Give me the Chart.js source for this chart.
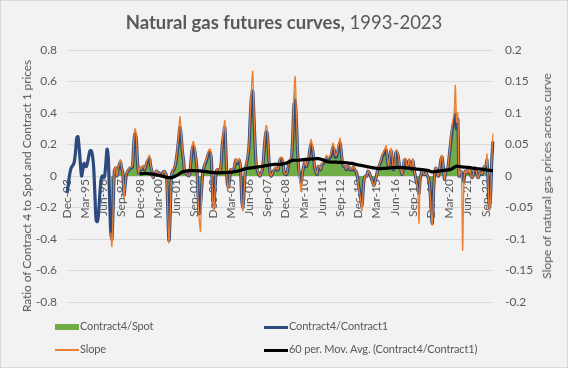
<!DOCTYPE html>
<html>
<head>
<meta charset="utf-8">
<script src="https://cdn.jsdelivr.net/npm/chart.js@4.4.1/dist/chart.umd.min.js"></script>
<style>
body { margin: 0; background: #fff; }
#wrap { position: relative; width: 568px; height: 368px; background: #f2f2f2;
        outline: 1px solid #d9d9d9; outline-offset: -1px;
        font-family: Lato, "Open Sans", sans-serif; color: #595959; }
#title { position: absolute; top: 11px; left: 0; width: 100%; text-align: center; font-size: 18.5px; }
#title b { font-weight: 700; }
canvas { position: absolute; left: 0; top: 0; }
.axt { position: absolute; font-size: 12px; line-height: 14px; white-space: nowrap;
       transform: translate(-50%, -50%) rotate(-90deg); }
.sw { position: absolute; }
.lt { position: absolute; font-size: 11px; line-height: 14px; white-space: nowrap; letter-spacing: -0.15px; }
</style>
</head>
<body>
<div id="wrap">
  <canvas id="gasChart" width="568" height="368"></canvas>
  <div id="title"><b>Natural gas futures curves,</b> 1993-2023</div>
  <div class="axt" id="ytitle" style="left:27px;top:186px;letter-spacing:-0.1px">Ratio of Contract 4 to Spot and Contract 1 prices</div>
  <div class="axt" id="y1title" style="left:547px;top:176px">Slope of natural gas prices across curve</div>
  <div id="legend"></div>
</div>
<script>
// monthly, Dec-93 .. Mar-23
const startYear = 1993, startMonth = 11;
const monthNames = ["Jan","Feb","Mar","Apr","May","Jun","Jul","Aug","Sep","Oct","Nov","Dec"];
const tickLabels = ["Dec-93","Mar-95","Jun-96","Sep-97","Dec-98","Mar-00","Jun-01","Sep-02",
  "Dec-03","Mar-05","Jun-06","Sep-07","Dec-08","Mar-10","Jun-11","Sep-12","Dec-13","Mar-15",
  "Jun-16","Sep-17","Dec-18","Mar-20","Jun-21","Sep-22"];
const leftTicks = [-0.8, -0.6, -0.4, -0.2, 0, 0.2, 0.4, 0.6, 0.8];
const rightTicks = [-0.2, -0.15, -0.1, -0.05, 0, 0.05, 0.1, 0.15, 0.2];

// Contract4/Contract1 (left axis), from Dec-93
const c4c1 = [
  -0.11,-0.06,0.0,0.04,0.06,0.07,0.09,0.15,0.24,0.25,       // m0
  0.18,0.08,0.0,0.04,0.08,0.06,0.06,0.09,0.13,0.16,         // m10
  0.16,0.13,0.05,-0.12,-0.28,-0.29,-0.24,-0.12,-0.03,0.0,   // m20
  -0.01,0.0,0.08,0.17,0.12,-0.12,-0.35,-0.40,-0.2,0.03,     // m30
  0.05,0.0,0.04,0.07,0.09,0.05,0.02,-0.12,-0.05,0.01,       // m40
  0.03,0.04,0.05,0.05,0.06,0.2,0.27,0.24,0.1,0.02,          // m50
  0.05,0.04,0.05,0.06,0.04,0.06,0.09,0.1,0.11,0.06,         // m60
  0.03,-0.01,0.01,0.02,0.03,0.01,0.02,0.01,0.0,0.02,        // m70
  0.03,0.02,0.0,-0.2,-0.41,-0.25,0.0,0.03,0.04,0.06,        // m80
  0.1,0.16,0.23,0.31,0.26,0.16,0.1,0.02,0.02,0.01,          // m90
  0.0,0.01,0.08,0.16,0.19,0.17,0.12,0.05,-0.12,-0.24,       // m100
  -0.18,-0.07,0.03,0.06,0.08,0.1,0.13,0.15,0.15,0.1,        // m110
  -0.12,-0.19,-0.07,0.03,0.04,0.04,0.03,0.08,0.2,0.26,      // m120
  0.31,0.14,-0.04,-0.07,-0.02,0.04,0.03,0.04,0.06,0.1,      // m130
  0.08,0.09,0.1,0.05,-0.15,-0.2,-0.08,0.04,0.08,0.12,       // m140
  0.19,0.37,0.5,0.54,0.38,0.19,0.06,0.03,0.01,0.0,          // m150
  0.02,0.04,0.12,0.22,0.28,0.27,0.15,0.04,0.0,0.01,         // m160
  0.03,0.04,0.05,0.04,0.04,0.09,0.11,0.11,0.08,0.02,        // m170
  0.01,0.01,0.05,0.09,0.1,0.12,0.25,0.45,0.48,0.35,         // m180
  0.15,0.04,0.0,-0.04,0.02,0.06,0.1,0.06,0.08,0.1,          // m190
  0.16,0.2,0.18,0.13,0.05,0.03,0.01,0.06,0.06,0.04,         // m200
  0.07,0.08,0.09,0.1,0.12,0.1,0.11,0.12,0.14,0.18,          // m210
  0.17,0.12,0.12,0.15,0.19,0.21,0.15,0.08,0.06,0.06,        // m220
  0.04,0.06,0.06,0.04,0.04,0.04,0.06,0.04,0.03,0.01,        // m230
  -0.05,-0.09,-0.14,-0.19,-0.09,-0.01,0.0,0.0,0.03,0.02,    // m240
  0.0,-0.02,-0.04,-0.06,-0.03,0.0,0.04,0.06,0.08,0.1,       // m250
  0.13,0.14,0.16,0.165,0.1,0.06,0.12,0.16,0.1,0.04,         // m260
  0.06,0.15,0.15,0.12,0.06,0.04,0.01,0.04,0.1,0.1,          // m270
  0.05,0.06,0.1,0.06,0.04,0.1,0.04,0.0,-0.04,-0.06,         // m280
  -0.11,-0.02,0.02,0.04,0.01,0.01,0.02,0.0,-0.02,-0.08,     // m290
  -0.2,-0.3,-0.1,0.02,0.05,0.01,0.0,0.04,0.1,0.12,          // m300
  0.06,-0.02,0.03,0.04,0.06,0.13,0.2,0.27,0.32,0.34,        // m310
  0.39,0.3,0.36,0.0,0.03,0.02,-0.02,-0.03,0.03,0.02,        // m320
  0.04,0.02,0.04,0.0,-0.01,0.02,0.05,0.04,0.0,-0.01,        // m330
  0.02,0.02,0.01,0.04,0.06,0.06,0.1,-0.05,-0.2,-0.12,       // m340
  0.1,0.22                                                  // m350
];

// Contract4/Spot (left axis), from Dec-96 (m36)
const c4spot = [
  -0.38,-0.42,-0.18,0.04,0.06,0.01,0.05,0.08,0.1,0.06,0.03,-0.1,-0.04,0.02, // m36
  0.04,0.05,0.06,0.06,0.07,0.22,0.29,0.25,0.11,0.03,        // m50
  0.06,0.05,0.06,0.07,0.05,0.07,0.1,0.11,0.12,0.07,         // m60
  0.04,0.0,0.02,0.03,0.04,0.02,0.03,0.02,0.01,0.03,         // m70
  0.04,0.03,0.01,-0.22,-0.44,-0.28,0.01,0.04,0.05,0.07,     // m80
  0.11,0.18,0.25,0.33,0.27,0.17,0.11,0.03,0.03,0.02,        // m90
  0.01,0.02,0.09,0.17,0.2,0.18,0.13,0.06,-0.14,-0.22,       // m100
  -0.2,-0.1,0.02,0.06,0.09,0.11,0.14,0.16,0.16,0.11,        // m110
  -0.1,-0.2,-0.08,0.04,0.05,0.05,0.04,0.09,0.21,0.27,       // m120
  0.32,0.15,-0.03,-0.08,-0.01,0.05,0.04,0.05,0.07,0.11,     // m130
  0.09,0.1,0.11,0.06,-0.13,-0.18,-0.07,0.05,0.09,0.13,      // m140
  0.2,0.38,0.52,0.56,0.4,0.2,0.07,0.04,0.02,0.01,           // m150
  0.03,0.05,0.13,0.23,0.29,0.28,0.16,0.05,0.01,0.02,        // m160
  0.04,0.05,0.06,0.05,0.05,0.1,0.12,0.12,0.09,0.03,         // m170
  0.02,0.02,0.06,0.1,0.11,0.13,0.27,0.5,0.56,0.37,          // m180
  0.16,0.05,0.01,-0.03,0.03,0.07,0.11,0.07,0.09,0.11,       // m190
  0.17,0.21,0.19,0.14,0.06,0.04,0.02,0.07,0.07,0.05,        // m200
  0.08,0.09,0.1,0.11,0.13,0.11,0.12,0.13,0.15,0.19,         // m210
  0.18,0.13,0.13,0.16,0.2,0.22,0.16,0.09,0.07,0.07,         // m220
  0.05,0.07,0.07,0.05,0.05,0.05,0.07,0.05,0.04,0.02,        // m230
  -0.04,-0.08,-0.13,-0.18,-0.08,0.0,0.01,0.01,0.04,0.03,    // m240
  0.01,-0.01,-0.03,-0.05,-0.02,0.01,0.05,0.07,0.09,0.11,    // m250
  0.14,0.15,0.17,0.17,0.11,0.07,0.13,0.17,0.11,0.05,        // m260
  0.07,0.16,0.16,0.13,0.07,0.05,0.02,0.05,0.11,0.11,        // m270
  0.06,0.07,0.11,0.07,0.05,0.11,0.05,0.01,-0.03,-0.05,      // m280
  -0.1,-0.01,0.03,0.05,0.02,0.02,0.03,0.01,-0.01,-0.07,     // m290
  -0.18,-0.28,-0.09,0.03,0.06,0.02,0.01,0.05,0.11,0.13,     // m300
  0.07,-0.01,0.04,0.05,0.07,0.14,0.21,0.28,0.33,0.36,       // m310
  0.45,0.32,0.38,0.01,0.04,0.03,-0.06,-0.02,0.04,0.03,      // m320
  0.05,0.03,0.05,0.01,0.0,0.03,0.06,0.05,0.01,0.0,          // m330
  0.03,0.03,0.02,0.05,0.07,0.07,0.11,-0.04,-0.18,-0.1,      // m340
  0.11,0.2                                                  // m350
];

// Slope across curve (right axis), from Dec-96 (m36)
const slope = [
  -0.09,-0.112,-0.05,0.01,0.015,0.0,0.012,0.02,0.026,0.014,0.005,-0.035,-0.012,0.004, // m36
  0.008,0.011,0.014,0.014,0.017,0.055,0.075,0.066,0.027,0.005,      // m50
  0.014,0.011,0.014,0.017,0.011,0.017,0.025,0.03,0.033,0.016,       // m60
  0.008,-0.003,0.003,0.005,0.008,0.003,0.005,0.003,0.0,0.005,       // m70
  0.008,0.005,0.0,-0.055,-0.106,-0.065,0.0,0.008,0.011,0.016,       // m80
  0.028,0.044,0.065,0.094,0.072,0.044,0.027,0.005,0.005,0.003,      // m90
  0.0,0.003,0.022,0.045,0.055,0.047,0.033,0.012,-0.04,-0.07,        // m100
  -0.088,-0.02,0.008,0.016,0.022,0.028,0.036,0.042,0.043,0.027,     // m110
  -0.035,-0.055,-0.02,0.008,0.011,0.011,0.008,0.022,0.055,0.072,    // m120
  0.088,0.038,-0.011,-0.02,-0.005,0.011,0.008,0.011,0.016,0.028,    // m130
  0.022,0.025,0.028,0.014,-0.041,-0.055,-0.022,0.011,0.022,0.033,   // m140
  0.052,0.1,0.14,0.166,0.105,0.052,0.016,0.008,0.003,0.0,           // m150
  0.005,0.011,0.033,0.06,0.08,0.075,0.041,0.011,0.0,0.003,          // m160
  0.008,0.011,0.014,0.011,0.011,0.025,0.03,0.03,0.022,0.005,        // m170
  0.003,0.003,0.014,0.025,0.028,0.033,0.07,0.13,0.158,0.1,          // m180
  0.04,0.01,-0.01,-0.025,0.005,0.016,0.028,0.016,0.022,0.028,       // m190
  0.044,0.058,0.05,0.036,0.014,0.008,0.003,0.016,0.016,0.011,       // m200
  0.019,0.022,0.025,0.028,0.033,0.028,0.03,0.033,0.04,0.052,        // m210
  0.047,0.033,0.033,0.041,0.052,0.06,0.041,0.022,0.016,0.016,       // m220
  0.011,0.016,0.016,0.011,0.011,0.011,0.016,0.011,0.008,0.003,      // m230
  -0.014,-0.025,-0.038,-0.055,-0.025,-0.003,0.0,0.0,0.008,0.005,    // m240
  0.0,-0.005,-0.011,-0.016,-0.008,0.0,0.011,0.016,0.022,0.028,      // m250
  0.036,0.038,0.044,0.048,0.028,0.016,0.033,0.044,0.028,0.011,      // m260
  0.016,0.041,0.041,0.033,0.016,0.011,0.003,0.011,0.028,0.028,      // m270
  0.014,0.016,0.028,0.016,0.011,0.028,0.011,0.0,-0.011,-0.02,       // m280
  -0.075,-0.005,0.005,0.011,0.003,0.003,0.005,0.0,-0.005,-0.022,    // m290
  -0.055,-0.078,-0.03,0.005,0.014,0.003,0.0,0.011,0.028,0.033,      // m300
  0.016,-0.005,0.008,0.011,0.016,0.036,0.055,0.075,0.09,0.1,        // m310
  0.144,0.085,0.1,0.0,0.008,0.005,-0.118,-0.01,0.008,0.005,         // m320
  0.011,0.005,0.011,0.0,-0.003,0.005,0.014,0.011,0.0,-0.003,        // m330
  0.005,0.005,0.003,0.011,0.016,0.016,0.035,-0.014,-0.055,-0.035,   // m340
  0.028,0.068                                                       // m350
];

// 60 per. moving average of Contract4/Contract1, from Dec-98 (m60)
const movAvg60 = [
  0.013,0.014,0.015,0.016,0.017,0.017,0.016,0.015,0.014,0.013,      // m60
  0.012,0.011,0.009,0.008,0.006,0.005,0.003,0.002,0.0,-0.002,       // m70
  -0.004,-0.006,-0.008,-0.009,-0.01,-0.01,-0.01,-0.008,-0.005,-0.002, // m80
  0.002,0.006,0.011,0.016,0.021,0.025,0.028,0.03,0.032,0.033,       // m90
  0.034,0.034,0.034,0.034,0.034,0.034,0.034,0.033,0.033,0.033,      // m100
  0.032,0.031,0.03,0.029,0.028,0.027,0.026,0.025,0.024,0.023,       // m110
  0.022,0.021,0.021,0.02,0.02,0.02,0.02,0.02,0.021,0.021,           // m120
  0.022,0.022,0.023,0.023,0.024,0.024,0.025,0.026,0.027,0.028,      // m130
  0.03,0.032,0.034,0.036,0.039,0.042,0.044,0.046,0.048,0.049,       // m140
  0.05,0.051,0.052,0.053,0.054,0.055,0.056,0.057,0.058,0.059,       // m150
  0.06,0.062,0.063,0.065,0.066,0.067,0.069,0.07,0.071,0.072,        // m160
  0.073,0.074,0.075,0.074,0.073,0.073,0.074,0.075,0.077,0.079,      // m170
  0.08,0.083,0.086,0.09,0.094,0.097,0.099,0.1,0.1,0.1,              // m180
  0.1,0.1,0.101,0.102,0.103,0.104,0.105,0.106,0.106,0.107,          // m190
  0.107,0.108,0.108,0.109,0.109,0.11,0.11,0.11,0.109,0.107,         // m200
  0.105,0.102,0.099,0.095,0.092,0.09,0.089,0.089,0.088,0.088,       // m210
  0.088,0.088,0.088,0.087,0.087,0.087,0.086,0.086,0.085,0.085,      // m220
  0.084,0.083,0.082,0.081,0.08,0.08,0.078,0.076,0.074,0.072,        // m230
  0.07,0.069,0.068,0.066,0.065,0.063,0.062,0.06,0.058,0.057,        // m240
  0.055,0.054,0.052,0.051,0.05,0.049,0.048,0.047,0.047,0.047,       // m250
  0.048,0.048,0.049,0.049,0.05,0.05,0.051,0.052,0.053,0.053,        // m260
  0.054,0.054,0.055,0.055,0.055,0.054,0.054,0.053,0.052,0.052,      // m270
  0.051,0.05,0.05,0.049,0.048,0.047,0.046,0.045,0.044,0.043,        // m280
  0.042,0.042,0.041,0.04,0.039,0.038,0.037,0.036,0.034,0.031,       // m290
  0.027,0.026,0.027,0.028,0.029,0.03,0.031,0.032,0.033,0.034,       // m300
  0.035,0.036,0.037,0.038,0.039,0.04,0.042,0.045,0.05,0.055,        // m310
  0.06,0.063,0.062,0.06,0.059,0.058,0.057,0.056,0.056,0.055,        // m320
  0.055,0.054,0.053,0.052,0.05,0.049,0.048,0.047,0.046,0.045,       // m330
  0.045,0.044,0.043,0.042,0.041,0.04,0.038,0.037,0.036,0.035,       // m340
  0.034,0.034                                                       // m350
];

const seriesNames = ["Contract4/Spot", "Contract4/Contract1", "Slope", "60 per. Mov. Avg. (Contract4/Contract1)"];
const seriesColors = ["#70ad47", "#2c4a7e", "#ed7d31", "#000000"];

// month labels
const categories = [];
for (let i = 0; i < c4c1.length; i++) {
    const k = startMonth + i;
    const yr = (startYear + Math.floor(k / 12)) % 100;
    categories.push(monthNames[k % 12] + "-" + String(yr).padStart(2, "0"));
}

// lead with blanks so every series lines up with the month labels
function lead(arr) {
    return new Array(c4c1.length - arr.length).fill(null).concat(arr);
}

const fontFam = "Lato, 'Open Sans', sans-serif";
const grey = "#595959";

const chart = new Chart(document.getElementById("gasChart"), {
    type: "line",
    data: {
        labels: categories,
        datasets: [
            { label: seriesNames[0], data: lead(c4spot), yAxisID: "y", order: 4,
              fill: "origin", backgroundColor: seriesColors[0], borderWidth: 0, tension: 0 },
            { label: seriesNames[1], data: c4c1, yAxisID: "y", order: 3,
              borderColor: seriesColors[1], borderWidth: 3.2, tension: 0.3, fill: false },
            { label: seriesNames[2], data: lead(slope), yAxisID: "y1", order: 2,
              borderColor: seriesColors[2], borderWidth: 1.3, tension: 0.3, fill: false },
            { label: seriesNames[3], data: lead(movAvg60), yAxisID: "y", order: 1,
              borderColor: seriesColors[3], borderWidth: 3.2, tension: 0.3, fill: false }
        ]
    },
    options: {
        responsive: false,
        animation: false,
        devicePixelRatio: 1,
        layout: { padding: { left: 15, right: 11, top: 50, bottom: 66 } },
        elements: { point: { radius: 0 } },
        plugins: { legend: { display: false }, tooltip: { enabled: false } },
        scales: {
            x: {
                position: { y: 0 },
                grid: { display: false, drawTicks: false },
                border: { display: false },
                ticks: {
                    autoSkip: false, maxRotation: 90, minRotation: 90, padding: 3,
                    color: grey, font: { family: fontFam, size: 12 },
                    callback: (v, i) => tickLabels.includes(categories[i]) ? categories[i] : null
                }
            },
            y: {
                position: "left",
                min: leftTicks[0], max: leftTicks[leftTicks.length - 1],
                afterBuildTicks: s => { s.ticks = leftTicks.map(v => ({ value: v })); },
                ticks: { padding: 10, color: grey, font: { family: fontFam, size: 12 },
                         callback: v => String(Math.round(v * 10) / 10) },
                grid: { color: "#d9d9d9", drawTicks: false },
                border: { display: false },
                afterFit: s => { s.width = 52; }
            },
            y1: {
                position: "right",
                min: rightTicks[0], max: rightTicks[rightTicks.length - 1],
                afterBuildTicks: s => { s.ticks = rightTicks.map(v => ({ value: v })); },
                ticks: { padding: 12, color: grey, font: { family: fontFam, size: 12 },
                         callback: v => String(Math.round(v * 100) / 100) },
                grid: { display: false, drawTicks: false },
                border: { display: false },
                afterFit: s => { s.width = 64; }
            }
        }
    }
});

// legend in two columns, like the original
const legendPos = [[55, 327], [264, 327], [55, 350], [264, 350]];
const swatchH = [6, 3, 1.5, 3];
const legend = document.getElementById("legend");
seriesNames.forEach((name, i) => {
    const [x, y] = legendPos[i];
    const sw = document.createElement("div");
    sw.className = "sw";
    sw.style.cssText = `left:${x}px;top:${y - swatchH[i] / 2}px;width:24px;height:${swatchH[i]}px;background:${seriesColors[i]}`;
    const t = document.createElement("div");
    t.className = "lt";
    t.style.cssText = `left:${x + 25}px;top:${y - 8}px`;
    t.textContent = name;
    legend.appendChild(sw);
    legend.appendChild(t);
});
</script>
</body>
</html>
